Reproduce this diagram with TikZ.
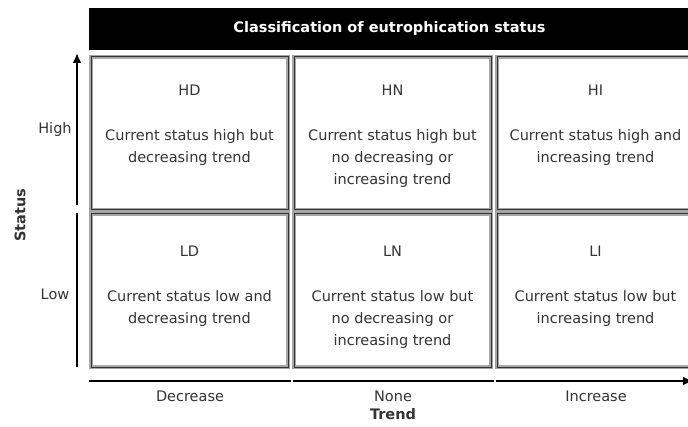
\documentclass[tikz,border=0pt]{standalone}
\usepackage{fontspec}
\setmainfont{DejaVu Sans}
\usetikzlibrary{positioning, arrows.meta}

\tikzset{
  cell/.style={rectangle, draw=black!80, line width=1pt, minimum width=197pt,
    minimum height=153pt, inner sep=0pt,
    preaction={draw=black!35, line width=3.2pt}},
  code/.style={inner sep=0pt, text=black!80},
  desc/.style={inner sep=0pt, align=center, text=black!80, anchor=north},
  axlabel/.style={inner sep=0pt, text=black!80},
  axis/.style={line width=2pt, black}
}

\begin{document}
\begin{tikzpicture}[x=1pt, y=1pt, font=\fontsize{14.5}{22}\selectfont]
  \useasboundingbox (0,0) rectangle (688,426);
  \clip (0,0) rectangle (688,426);

  % Header bar
  \node[fill=black, text=white, font=\fontsize{14.5}{22}\selectfont\bfseries,
    minimum width=601pt, minimum height=42pt, inner sep=0pt] (head) at (389.5,397)
    {Classification of eutrophication status};

  % Cells (high row)
  \node[cell] (hd) at (189.5,292.5) {};
  \node[cell] (hn) at (392.5,292.5) {};
  \node[cell] (hi) at (595.5,292.5) {};
  % Cells (low row)
  \node[cell] (ld) at (189.5,135.5) {};
  \node[cell] (ln) at (392.5,135.5) {};
  \node[cell] (li) at (595.5,135.5) {};

  % Cell texts
  \node[code] (hdc) at ([yshift=-34pt]hd.north) {HD};
  \node[desc, below=33pt of hdc] (hdd) {Current status high but\\decreasing trend};
  \node[code] (hnc) at ([yshift=-34pt]hn.north) {HN};
  \node[desc, below=33pt of hnc] (hnd) {Current status high but\\no decreasing or\\increasing trend};
  \node[code] (hic) at ([yshift=-34pt]hi.north) {HI};
  \node[desc, below=33pt of hic] (hid) {Current status high and\\increasing trend};

  \node[code] (ldc) at ([yshift=-38pt]ld.north) {LD};
  \node[desc, below=33pt of ldc] (ldd) {Current status low and\\decreasing trend};
  \node[code] (lnc) at ([yshift=-38pt]ln.north) {LN};
  \node[desc, below=33pt of lnc] (lnd) {Current status low but\\no decreasing or\\increasing trend};
  \node[code] (lic) at ([yshift=-38pt]li.north) {LI};
  \node[desc, below=33pt of lic] (lid) {Current status low but\\increasing trend};

  % Status axis
  \coordinate (s0) at (77,59);
  \coordinate (s1) at (77,213);
  \coordinate (s2) at (77,221);
  \coordinate (s3) at (77,373);
  \draw[axis] (s0) -- (s1);
  \draw[axis, -{Latex[length=10pt,width=9pt]}] (s2) -- (s3);

  % Trend axis
  \coordinate (t0) at (89,45);
  \coordinate (t1) at (291,45);
  \coordinate (t2) at (293,45);
  \coordinate (t3) at (494,45);
  \coordinate (t4) at (496,45);
  \coordinate (t5) at (693,45);
  \draw[axis] (t0) -- (t1);
  \draw[axis] (t2) -- (t3);
  \draw[axis, -{Latex[length=10pt,width=9pt]}] (t4) -- (t5);

  % Axis labels
  \node[axlabel] (high) at (55,296) {High};
  \node[axlabel] (low) at (55,132) {Low};
  \node[axlabel, rotate=90, font=\fontsize{14.5}{22}\selectfont\bfseries] (status) at (20,211) {Status};
  \node[axlabel] (dec) at (190,30) {Decrease};
  \node[axlabel] (none) at (393,30) {None};
  \node[axlabel] (inc) at (596,30) {Increase};
  \node[axlabel, font=\fontsize{14.5}{22}\selectfont\bfseries] (trend) at (393,12) {Trend};
\end{tikzpicture}
\end{document}
